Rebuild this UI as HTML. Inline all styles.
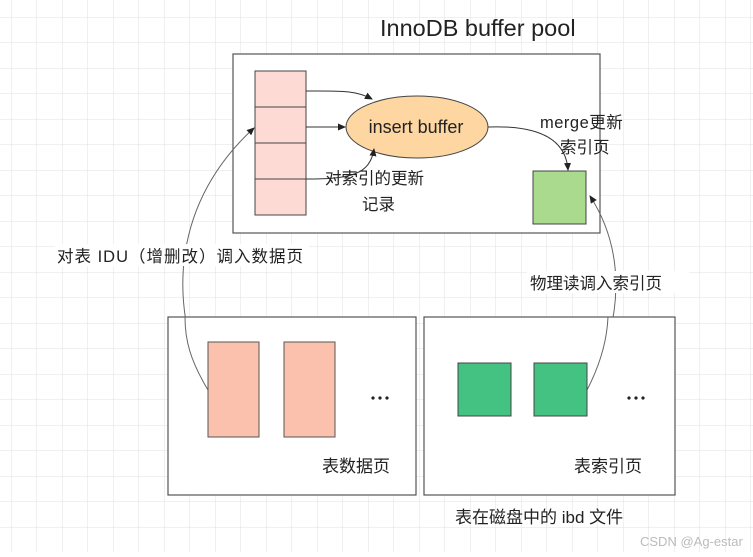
<!DOCTYPE html>
<html><head><meta charset="utf-8"><style>
body{margin:0;width:753px;height:552px;overflow:hidden;background:#fff;font-family:"Liberation Sans","Noto Sans CJK SC",sans-serif}
</style></head><body>
<svg width="753" height="552" xmlns="http://www.w3.org/2000/svg" font-family="Liberation Sans, Noto Sans CJK SC, sans-serif">
<defs>
<pattern id="g" x="11" y="17" width="25.5" height="25.5" patternUnits="userSpaceOnUse">
<path d="M0 0H25.5M0 0V25.5" stroke="#e2e2e2" stroke-width="1" fill="none"/>
</pattern>
<marker id="a" markerWidth="8" markerHeight="8" refX="7" refY="4" orient="auto" markerUnits="userSpaceOnUse"><path d="M0,0.5L8,4L0,7.5Z" fill="#222"/></marker>
</defs>
<rect width="753" height="552" fill="url(#g)"/>
<text x="380" y="36" font-size="23.5" fill="#222">InnoDB buffer pool</text>
<rect x="233" y="54" width="367" height="179" fill="#fff" stroke="#555" stroke-width="1.2"/>
<g fill="#fddad4" stroke="#444" stroke-width="1">
<rect x="255" y="71" width="51" height="36"/><rect x="255" y="107" width="51" height="36"/>
<rect x="255" y="143" width="51" height="36"/><rect x="255" y="179" width="51" height="36"/>
</g>
<ellipse cx="417" cy="127" rx="71" ry="31" fill="#fdd6a2" stroke="#444"/>
<text x="416" y="133" font-size="18" text-anchor="middle" fill="#222">insert buffer</text>
<rect x="533" y="171" width="53" height="53" fill="#a9da8e" stroke="#444"/>
<g fill="none" stroke="#333" stroke-width="1">
<path d="M306,91 C340,91 355,90 372,99" marker-end="url(#a)"/>
<path d="M306,127 L345,127" marker-end="url(#a)"/>
<path d="M306,179 C350,179 370,175 374,149" marker-end="url(#a)"/>
<path d="M488,127 C540,125 566,140 568,170" marker-end="url(#a)"/>
<path d="M208,390 C165,300 175,200 254,128" stroke="#666" marker-end="url(#a)"/>
<path d="M587,390 C625,320 625,250 590,196" stroke="#666" marker-end="url(#a)"/>
</g>
<g font-size="16.5" fill="#222">
<text x="540" y="128" letter-spacing="0.5">merge更新</text>
<text x="560" y="153">索引页</text>
<text x="325" y="184">对索引的更新</text>
<text x="362" y="210">记录</text>
<rect x="55" y="244" width="254" height="22" fill="#fff"/>
<text x="57" y="262" letter-spacing="1">对表 IDU（增删改）调入数据页</text>
<rect x="527" y="271" width="162" height="22" fill="#fff"/>
<text x="530" y="289">物理读调入索引页</text>
</g>
<rect x="168" y="317" width="248" height="178" fill="#fff" stroke="#555" stroke-width="1.2"/>
<rect x="424" y="317" width="251" height="178" fill="#fff" stroke="#555" stroke-width="1.2"/>
<path d="M208,390 C190,360 185,340 185,317" stroke="#666" fill="none"/>
<path d="M587,390 C600,365 607,340 608,317" stroke="#666" fill="none"/>
<rect x="208" y="342" width="51" height="95" fill="#fbc1ad" stroke="#555"/>
<rect x="284" y="342" width="51" height="95" fill="#fbc1ad" stroke="#555"/>
<rect x="458" y="363" width="53" height="53" fill="#43c282" stroke="#444"/>
<rect x="534" y="363" width="53" height="53" fill="#43c282" stroke="#444"/>
<g fill="#222">
<circle cx="373" cy="398" r="1.6"/><circle cx="380" cy="398" r="1.6"/><circle cx="387" cy="398" r="1.6"/>
<circle cx="629" cy="398" r="1.6"/><circle cx="636" cy="398" r="1.6"/><circle cx="643" cy="398" r="1.6"/>
</g>
<g font-size="17" fill="#222">
<text x="322" y="472">表数据页</text>
<text x="574" y="472">表索引页</text>
<text x="455" y="523">表在磁盘中的 ibd 文件</text>
</g>
<text x="640" y="546" font-size="13" fill="#bbb">CSDN @Ag-estar</text>
</svg>
</body></html>
